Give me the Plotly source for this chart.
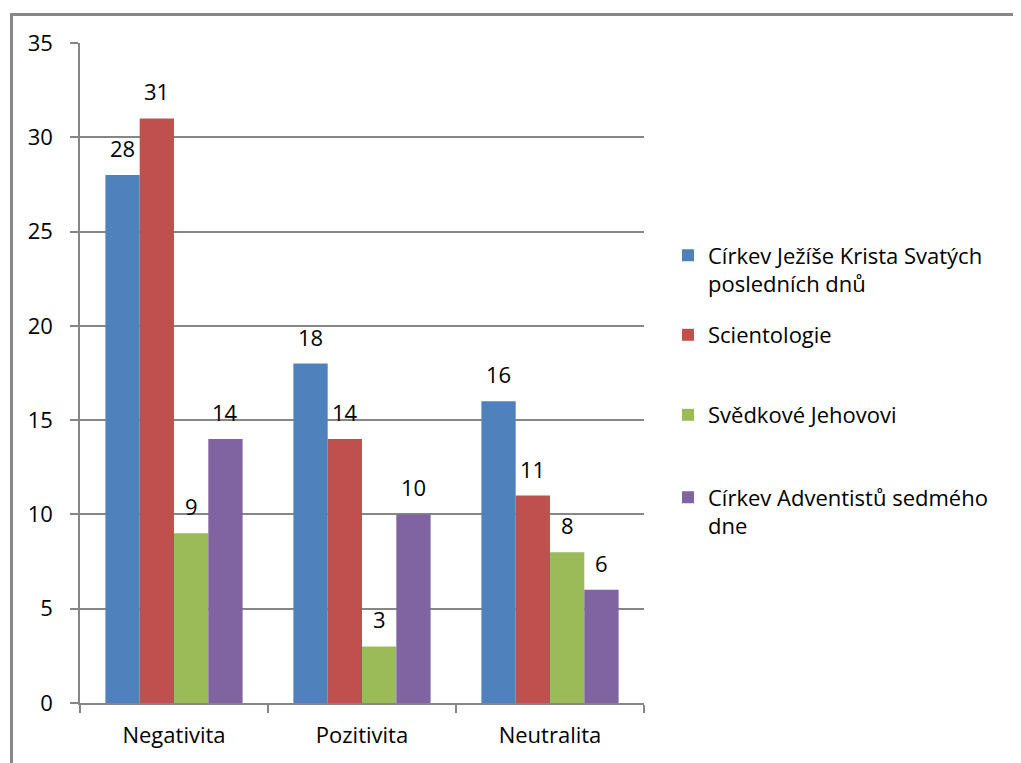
import plotly.graph_objects as go

categories = ["Negativita", "Pozitivita", "Neutralita"]
series_names = [
    "Církev Ježíše Krista Svatých<br>posledních dnů",
    "Scientologie",
    "Svědkové Jehovovi",
    "Církev Adventistů sedmého<br>dne",
]
values_lds = [28, 18, 16]
values_scient = [31, 14, 11]
values_jw = [9, 3, 8]
values_adv = [14, 10, 6]
series_values = [values_lds, values_scient, values_jw, values_adv]
colors = ["#4F81BD", "#C0504D", "#9BBB59", "#8064A2"]
y_ticks = [0, 5, 10, 15, 20, 25, 30, 35]

FONT = "Open Sans"
FS = 22
OFF = 8  # default body margin of the html page
W, H = 1021 - OFF, 763 - OFF
ML, MT = 80 - OFF, 43 - OFF
PLOT_R, PLOT_B = 644 - OFF, 703 - OFF
MR, MB = W - PLOT_R, H - PLOT_B
plot_w = W - ML - MR
plot_h = H - MT - MB

legend_names = ["legend", "legend2", "legend3", "legend4"]
legend_centers_px = [270 - OFF, 335 - OFF, 415 - OFF, 512 - OFF]

fig = go.Figure()
bargap = 0.27
n = len(series_values)
cat_px = plot_w / len(categories)
bar_px = cat_px * (1 - bargap) / n

for j, (name, vals, col) in enumerate(zip(series_names, series_values, colors)):
    fig.add_trace(go.Bar(
        x=categories, y=vals, name=name,
        marker=dict(color=col, line=dict(width=0)),
        legend=legend_names[j],
    ))
    for c, v in zip(categories, vals):
        fig.add_annotation(
            x=c, y=v, text=str(v), showarrow=False,
            xshift=(j - (n - 1) / 2) * bar_px, yshift=27,
            yanchor="middle", xanchor="center",
            font=dict(family=FONT, size=FS, color="black"),
        )

layout_legends = {}
for j, ln in enumerate(legend_names):
    layout_legends[ln] = dict(
        x=(660 - ML) / plot_w, xanchor="left",
        y=(PLOT_B - legend_centers_px[j]) / plot_h, yanchor="middle",
        valign="top",
        font=dict(family=FONT, size=FS, color="black"),
        bgcolor="rgba(0,0,0,0)",
    )

fig.update_layout(
    width=W, height=H,
    margin=dict(l=ML, r=MR, t=MT, b=MB),
    paper_bgcolor="white", plot_bgcolor="white",
    barmode="group", bargap=bargap, bargroupgap=0,
    font=dict(family=FONT, size=FS, color="black"),
    showlegend=True,
    **layout_legends,
)

fig.update_xaxes(
    type="category", showgrid=False, showline=True, linecolor="#868686", linewidth=1.5,
    ticks="outside", tickson="boundaries", ticklen=8, tickcolor="#868686", tickwidth=1.5,
    ticklabelstandoff=12,
    tickfont=dict(family=FONT, size=FS, color="black"),
)
fig.update_yaxes(
    range=[0, 35], tickvals=y_ticks, showgrid=True, gridcolor="#868686", gridwidth=1.5,
    showline=True, linecolor="#868686", linewidth=1.5, zeroline=False,
    ticks="outside", ticklen=8, tickcolor="#868686", tickwidth=1.5,
    ticklabelstandoff=13,
    tickfont=dict(family=FONT, size=FS, color="black"),
)

# chart area border (extends beyond the visible page on the right and bottom)
fig.add_shape(
    type="rect", xref="paper", yref="paper",
    x0=(11.5 - OFF - ML) / plot_w, x1=(W + 40 - ML) / plot_w,
    y0=(PLOT_B - (H + 40)) / plot_h, y1=(PLOT_B - (14.5 - OFF)) / plot_h,
    line=dict(color="#878787", width=3), fillcolor="rgba(0,0,0,0)", layer="below",
)

fig.write_html("out.html")
